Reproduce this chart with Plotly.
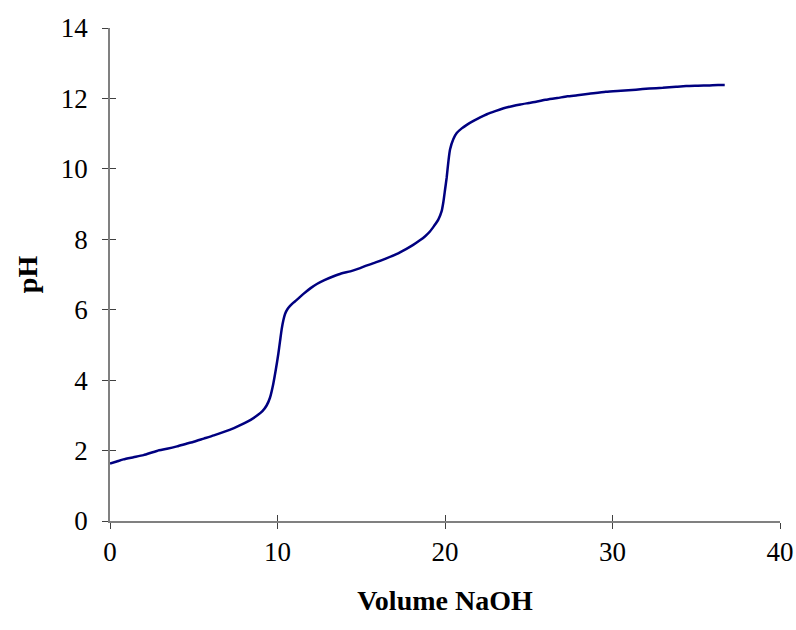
import plotly.graph_objects as go

volume = [0.0, 0.4, 0.8, 1.4, 2.0, 2.8, 3.4, 4.0, 4.6, 5.0, 5.6, 6.2, 6.8, 7.4, 8.0, 8.4, 8.8, 9.1, 9.35, 9.55,
          9.75, 9.9, 10.05, 10.15, 10.25, 10.35, 10.45, 10.6, 10.75, 10.95, 11.15, 11.55, 12.0, 12.35, 12.8,
          13.35, 13.8, 14.35, 14.8, 15.3, 15.9, 16.5, 17.1, 17.7, 18.1, 18.5, 18.8, 19.1, 19.35, 19.6, 19.8,
          19.9, 20.0, 20.1, 20.2, 20.3, 20.5, 20.7, 21.0, 21.3, 21.7, 22.1, 22.5, 23.0, 23.5, 24.0, 24.5,
          25.0, 25.5, 26.0, 26.7, 27.3, 27.9, 28.6, 29.6, 30.5, 31.4, 32.2, 33.0, 33.8, 34.4, 35.1, 35.8,
          36.3, 36.7]
ph = [1.63, 1.69, 1.75, 1.81, 1.87, 1.99, 2.05, 2.12, 2.20, 2.25, 2.34, 2.43, 2.53, 2.64, 2.77, 2.87, 3.00,
      3.12, 3.28, 3.50, 3.90, 4.30, 4.75, 5.10, 5.45, 5.70, 5.88, 6.02, 6.11, 6.20, 6.28, 6.45, 6.62,
      6.73, 6.84, 6.95, 7.03, 7.09, 7.16, 7.25, 7.35, 7.46, 7.58, 7.73, 7.84, 7.97, 8.08, 8.22, 8.38,
      8.56, 8.80, 9.05, 9.40, 9.75, 10.20, 10.55, 10.85, 11.02, 11.15, 11.25, 11.36, 11.46, 11.55, 11.64,
      11.72, 11.78, 11.83, 11.87, 11.91, 11.96, 12.01, 12.06, 12.09, 12.13, 12.19, 12.22, 12.25, 12.28,
      12.30, 12.33, 12.35, 12.36, 12.37, 12.38, 12.38]

x_ticks = [0, 10, 20, 30, 40]
y_ticks = [0, 2, 4, 6, 8, 10, 12, 14]

font_family = "Liberation Serif"

fig = go.Figure()
fig.add_trace(go.Scatter(x=volume, y=ph, mode="lines",
                         line=dict(color="#000080", width=2.5, shape="spline", smoothing=0.6),
                         showlegend=False, hoverinfo="skip"))
# invisible trace to carry the inside tick axes
fig.add_trace(go.Scatter(x=[0], y=[0], xaxis="x2", yaxis="y2", mode="markers",
                         marker=dict(opacity=0), showlegend=False, hoverinfo="skip"))

common = dict(showgrid=False, zeroline=False, ticklen=6, tickwidth=1, tickcolor="#404040",
              linecolor="#808080", linewidth=1.5, automargin=False)

fig.update_layout(
    width=796, height=630,
    margin=dict(l=110, r=16, t=28, b=109),
    paper_bgcolor="white", plot_bgcolor="white",
    font=dict(family=font_family, size=27, color="black"),
    xaxis=dict(range=[0, 40], tickvals=x_ticks, ticks="outside", showline=True,
               title=dict(text="<b>Volume NaOH</b>", font=dict(family=font_family, size=28), standoff=24),
               tickfont=dict(family=font_family, size=27), **common),
    yaxis=dict(range=[0, 14], tickvals=y_ticks, ticks="outside", showline=True, ticklabelstandoff=9,
               title=dict(text="<b>pH</b>", font=dict(family=font_family, size=28), standoff=15),
               tickfont=dict(family=font_family, size=27), **common),
    xaxis2=dict(range=[0, 40], tickvals=x_ticks, ticks="inside", showline=False,
                showticklabels=False, overlaying="x", anchor="y2", **common),
    yaxis2=dict(range=[0, 14], tickvals=y_ticks, ticks="inside", showline=False,
                showticklabels=False, overlaying="y", anchor="x2", **common),
)

fig.write_html("out.html")
